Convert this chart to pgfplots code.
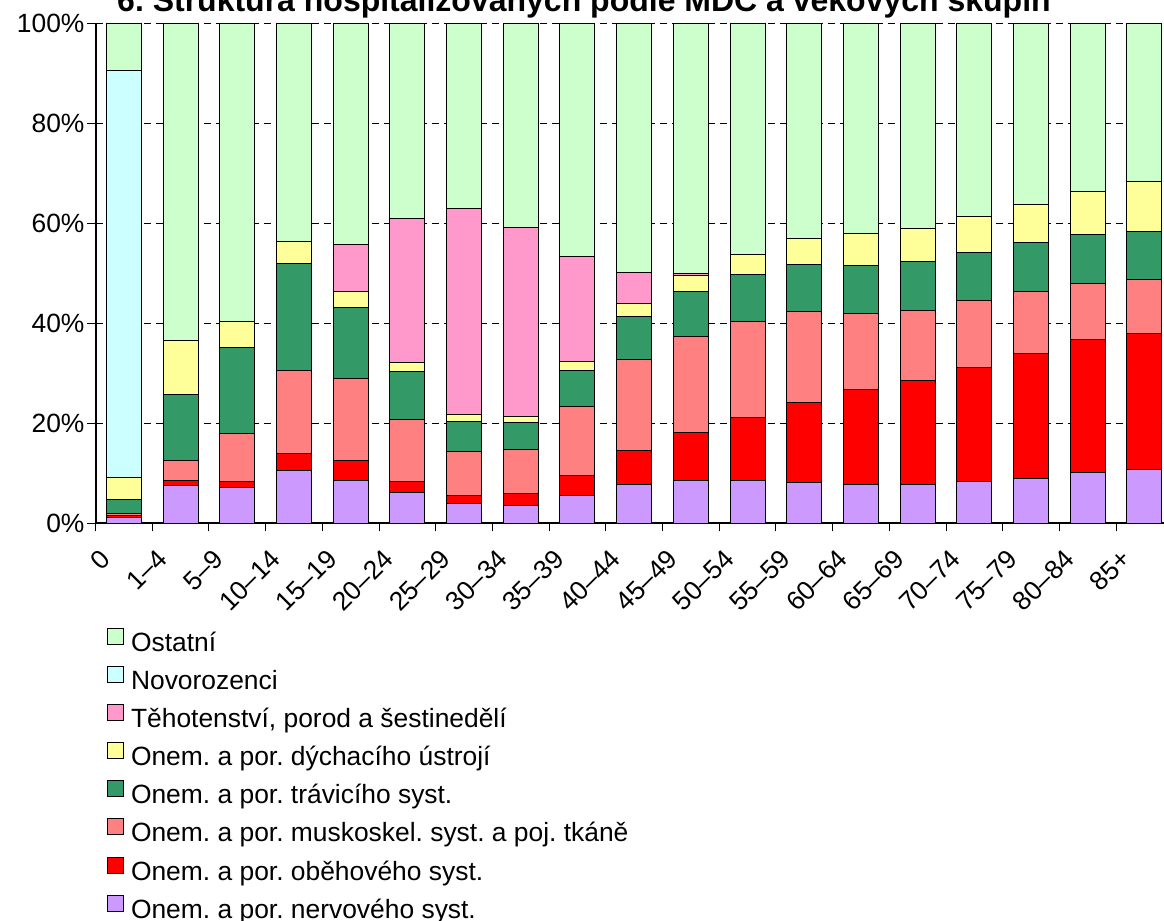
\documentclass[border=0pt]{standalone}
\usepackage{fontspec}
\setmainfont{Liberation Sans}
\usepackage{pgfplots}
\usepackage{pgfplotstable}
\pgfplotsset{compat=1.18}
\frenchspacing
\newlength\px
\setlength\px{0.5pt}
\definecolor{nerv}{RGB}{204,153,255}
\definecolor{obeh}{RGB}{255,0,0}
\definecolor{musk}{RGB}{255,128,128}
\definecolor{trav}{RGB}{51,153,102}
\definecolor{dych}{RGB}{255,255,153}
\definecolor{teh}{RGB}{255,153,204}
\definecolor{novo}{RGB}{204,255,255}
\definecolor{ost}{RGB}{204,255,204}
\newcommand{\LblFont}{\fontsize{13.2pt}{15pt}\selectfont}
\pgfplotsset{
  boxleg/.style={legend image code/.code={
    \draw[##1] (0\px,0\px) rectangle (16\px,16\px);
    \path (23\px,0\px);}}
}
% segments of each stack, in %
\pgfplotstableread{
x  nerv obeh musk trav dych teh  novo ost
0  1.2  0.3  0.5  2.8  4.3  0    81.4 9.5
1  7.6  0.9  4.1  13.2 10.8 0    0    63.4
2  7.1  1.3  9.6  17.1 5.2  0    0    59.7
3  10.6 3.4  16.6 21.3 4.4  0    0    43.7
4  8.5  4.1  16.3 14.3 3.2  9.4  0    44.2
5  6.1  2.2  12.4 9.6  1.8  28.8 0    39.1
6  3.9  1.7  8.7  6.1  1.3  41.2 0    37.1
7  3.6  2.4  8.8  5.4  1.2  37.7 0    40.9
8  5.5  4.1  13.7 7.3  1.8  20.9 0    46.7
9  7.7  6.9  18.1 8.6  2.7  6.2  0    49.8
10 8.5  9.6  19.3 9.0  3.2  0.4  0    50.0
11 8.5  12.6 19.3 9.3  4.1  0    0    46.2
12 8.2  16.0 18.1 9.4  5.3  0    0    43.0
13 7.8  19.0 15.1 9.6  6.4  0    0    42.1
14 7.8  20.7 14.1 9.8  6.5  0    0    41.1
15 8.4  22.8 13.4 9.6  7.1  0    0    38.7
16 9.0  24.9 12.5 9.8  7.6  0    0    36.2
17 10.2 26.6 11.2 9.8  8.5  0    0    33.7
18 10.7 27.3 10.7 9.7  9.9  0    0    31.7
}\data

\begin{document}
\begin{tikzpicture}
\begin{axis}[
    at={(95.5\px,397.7\px)}, anchor=south west,
    scale only axis,
    width=1077.3\px, height=500\px,
    ybar stacked,
    bar width=35\px,
    xmin=-0.5, xmax=18.5,
    ymin=0, ymax=100,
    xtick={-0.5,0.5,...,18.5},
    x tick label as interval,
    xticklabels={0,1–4,5–9,10–14,15–19,20–24,25–29,30–34,35–39,40–44,45–49,50–54,55–59,60–64,65–69,70–74,75–79,80–84,85+},
    x tick label style={font=\LblFont, inner sep=0pt, xshift=-25\px, yshift=-16\px, rotate=45, anchor=north east},
    ytick={0,20,40,60,80,100},
    yticklabels={0\%,20\%,40\%,60\%,80\%,100\%},
    y tick label style={font=\LblFont, xshift=4\px},
    tick align=outside,
    major tick length=8\px,
    tick style={black, line width=1\px},
    axis x line*=bottom,
    axis y line*=left,
    axis line style={black, line width=2\px},
    ymajorgrids=true,
    grid style={black, line width=1\px, dash pattern=on 7\px off 5\px},
    reverse legend,
    legend cell align=left,
    legend style={at={(axis description cs:0.0107,-0.2094)}, anchor=north west,
      draw=none, fill=none, inner sep=0pt, outer sep=0pt, font=\LblFont,
      row sep=8.6\px,
      nodes={inner sep=0pt, text height=20\px, text depth=6\px}},
    every axis plot/.append style={draw=black, line width=1\px},
    clip=false
]
\addplot[fill=nerv, boxleg] table[x=x, y=nerv] {\data};
\addlegendentry{Onem. a por. nervového syst.}
\addplot[fill=obeh, boxleg] table[x=x, y=obeh] {\data};
\addlegendentry{Onem. a por. oběhového syst.}
\addplot[fill=musk, boxleg] table[x=x, y=musk] {\data};
\addlegendentry{Onem. a por. muskoskel. syst. a poj. tkáně}
\addplot[fill=trav, boxleg] table[x=x, y=trav] {\data};
\addlegendentry{Onem. a por. trávicího syst.}
\addplot[fill=dych, boxleg] table[x=x, y=dych] {\data};
\addlegendentry{Onem. a por. dýchacího ústrojí}
\addplot[fill=teh, boxleg] table[x=x, y=teh] {\data};
\addlegendentry{Těhotenství, porod a šestinedělí}
\addplot[fill=novo, boxleg] table[x=x, y=novo] {\data};
\addlegendentry{Novorozenci}
\addplot[fill=ost, boxleg] table[x=x, y=ost] {\data};
\addlegendentry{Ostatní}
\end{axis}
\node[anchor=base, font=\bfseries\fontsize{16pt}{18pt}\selectfont] at (584\px,909.5\px)
  {6. Struktura hospitalizovaných podle MDC a věkových skupin};
\pgfresetboundingbox
\useasboundingbox (0\px,0\px) rectangle (1164\px,921\px);
\end{tikzpicture}
\end{document}
